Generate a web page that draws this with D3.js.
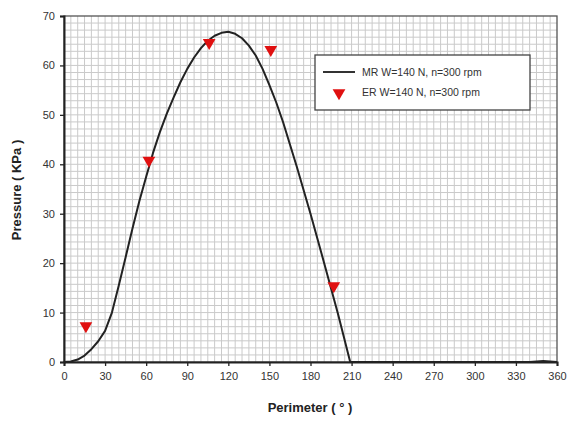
<!DOCTYPE html>
<html>
<head>
<meta charset="utf-8">
<script src="https://cdn.jsdelivr.net/npm/d3@7"></script>
<style>
  body { margin: 0; background: #fff; }
  text { font-family: Arial, "Liberation Sans", sans-serif; }
</style>
</head>
<body>
<svg id="chart" width="568" height="423"></svg>
<script>
// model result (MR) curve
var mr_deg = [0, 5, 10, 15, 20, 25, 30, 35, 40, 45, 50, 55, 60, 65, 70, 75, 80, 85, 90, 95, 100, 105, 110, 115, 120, 125, 130, 135, 140, 145, 150, 155, 160, 165, 170, 180, 190, 200, 209, 250, 300, 340, 350, 360];
var mr_p   = [0, 0.1, 0.5, 1.3, 2.6, 4.2, 6.3, 10, 15.5, 21.2, 27, 32.5, 37.5, 42.3, 46.5, 50.2, 53.5, 56.6, 59.3, 61.6, 63.5, 65, 66, 66.6, 66.8, 66.4, 65.5, 64, 62, 59.3, 56, 52.5, 48.5, 44, 39.5, 30, 20, 9.8, 0, 0, 0, 0, 0.2, 0];
// experimental result (ER) points
var er_deg = [16, 62, 106, 151, 197];
var er_p   = [7.3, 40.8, 64.6, 63.2, 15.4];

var xticks = d3.range(0, 361, 30);
var yticks = d3.range(0, 71, 10);
var legend_labels = ["MR W=140 N, n=300 rpm", "ER W=140 N, n=300 rpm"];

var svg = d3.select("#chart");
var pl = 64, pr = 557, pt = 16, pb = 362;

var x = d3.scaleLinear().domain([0, 360]).range([pl, pr]);
var y = d3.scaleLinear().domain([0, 70]).range([pb, pt]);

// grid
var grid = svg.append("g");
grid.selectAll(".vg").data(d3.range(5, 360, 5)).enter().append("line")
  .attr("x1", d => x(d)).attr("x2", d => x(d))
  .attr("y1", pt).attr("y2", pb)
  .style("stroke", "#cacaca").style("stroke-width", 1);
grid.selectAll(".hg").data(d3.range(1, 49).map(i => i * 10 / 7)).enter().append("line")
  .attr("x1", pl).attr("x2", pr)
  .attr("y1", d => y(d)).attr("y2", d => y(d))
  .style("stroke", "#cacaca").style("stroke-width", 1);

// frame
svg.append("rect").attr("x", pl).attr("y", pt)
  .attr("width", pr - pl).attr("height", pb - pt)
  .attr("fill", "none").style("stroke", "#555").style("stroke-width", 1.3);

// axes
var xAxis = svg.append("g").attr("transform", "translate(0," + pb + ")")
  .call(d3.axisBottom(x).tickValues(xticks).tickSize(4).tickPadding(6));
var yAxis = svg.append("g").attr("transform", "translate(" + pl + ",0)")
  .call(d3.axisLeft(y).tickValues(yticks).tickSize(4).tickPadding(5));
[xAxis, yAxis].forEach(function(a){
  a.select(".domain").style("stroke", "#222").style("stroke-width", 2);
  a.selectAll(".tick line").style("stroke", "#222").style("stroke-width", 1.3);
  a.selectAll(".tick text").style("font-size", "11px").style("fill", "#333")
    .style("font-family", "Arial, 'Liberation Sans', sans-serif");
});

// curve
var line = d3.line().x((d, i) => x(mr_deg[i])).y((d, i) => y(mr_p[i]));
svg.append("path").datum(mr_p).attr("d", line)
  .attr("fill", "none").style("stroke", "#222").style("stroke-width", 2)
  .style("stroke-linejoin", "round");

// markers
var tri = d3.symbol().type(d3.symbolTriangle).size(70);
svg.selectAll(".er").data(er_p).enter().append("path")
  .attr("d", tri)
  .attr("transform", (d, i) => "translate(" + x(er_deg[i]) + "," + y(d) + ") rotate(180)")
  .attr("fill", "#e01010");

// legend
var lg = svg.append("g").attr("transform", "translate(315,55)");
lg.append("rect").attr("width", 215).attr("height", 55)
  .attr("fill", "#fff").style("stroke", "#444").style("stroke-width", 1.3);
lg.append("line").attr("x1", 8).attr("x2", 40).attr("y1", 17).attr("y2", 17)
  .style("stroke", "#333").style("stroke-width", 2);
lg.append("path").attr("d", tri).attr("transform", "translate(24,38) rotate(180)").attr("fill", "#e01010");
lg.selectAll(".lt").data(legend_labels).enter().append("text")
  .attr("x", 47).attr("y", (d, i) => 21 + i * 20)
  .style("font-size", "10.5px").style("fill", "#333").text(d => d);

// axis titles
svg.append("text").attr("x", 310).attr("y", 412).attr("text-anchor", "middle")
  .style("font-size", "13px").style("font-weight", "bold").style("fill", "#222")
  .text("Perimeter ( ° )");
svg.append("text").attr("transform", "translate(21,190) rotate(-90)").attr("text-anchor", "middle")
  .style("font-size", "13px").style("font-weight", "bold").style("fill", "#222")
  .text("Pressure ( KPa )");
</script>
</body>
</html>
